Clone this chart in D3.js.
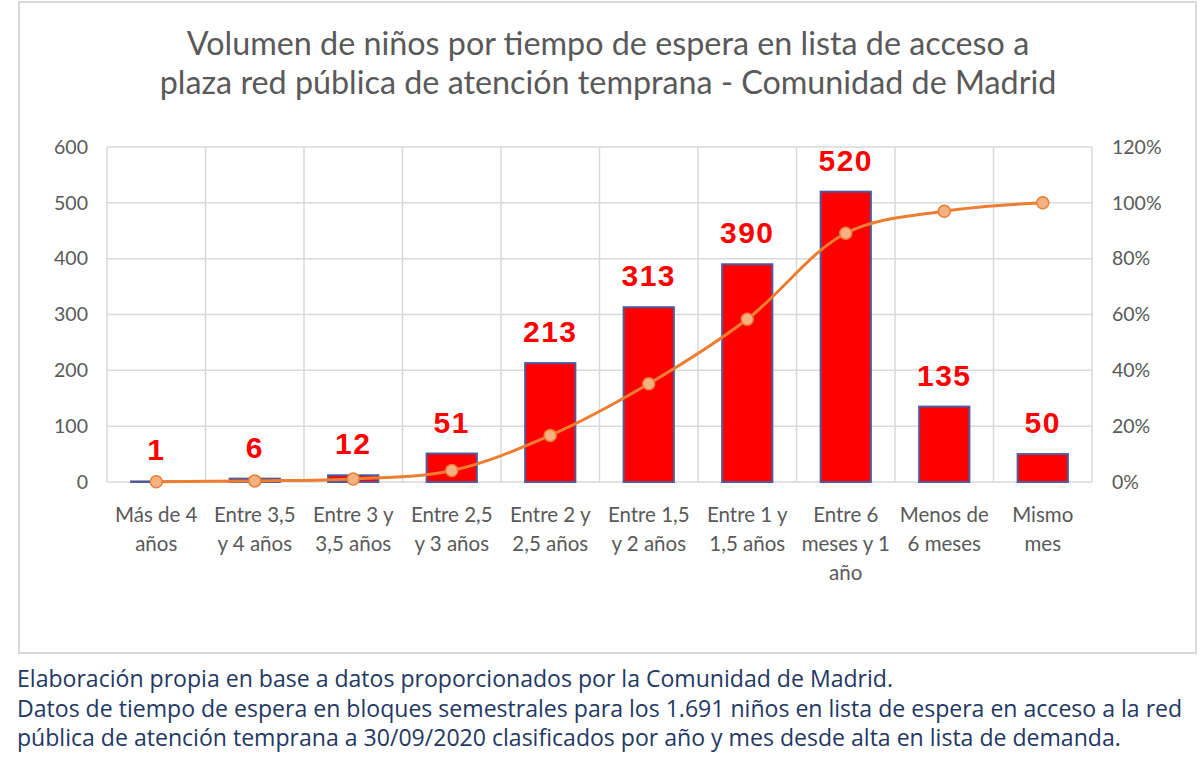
<!DOCTYPE html>
<html>
<head>
<meta charset="utf-8">
<script src="https://cdn.jsdelivr.net/npm/d3@7"></script>
<style>
  body { margin: 0; background: #fff; }
  svg { display: block; }
</style>
</head>
<body>
<div id="chart"></div>
<script>
// categories (each label split into its printed lines)
var categories = [
	["Más de 4", "años"],
	["Entre 3,5", "y 4 años"],
	["Entre 3 y", "3,5 años"],
	["Entre 2,5", "y 3 años"],
	["Entre 2 y", "2,5 años"],
	["Entre 1,5", "y 2 años"],
	["Entre 1 y", "1,5 años"],
	["Entre 6", "meses y 1", "año"],
	["Menos de", "6 meses"],
	["Mismo", "mes"]
];
// number of children per waiting block
var ninos = [1, 6, 12, 51, 213, 313, 390, 520, 135, 50];
// cumulative share (right axis)
var acumulado = [0.0006, 0.004, 0.011, 0.041, 0.167, 0.352, 0.583, 0.891, 0.970, 1.0];
var leftTicks = [0, 100, 200, 300, 400, 500, 600];
var rightTicks = [0, 0.2, 0.4, 0.6, 0.8, 1.0, 1.2];

var titleLines = [
	"Volumen  de  niños  por  tiempo  de  espera  en  lista  de  acceso  a",
	"plaza  red  pública  de  atención  temprana  -  Comunidad  de  Madrid"
];
var footLines = [
	"Elaboración propia en base a datos proporcionados por la Comunidad de Madrid.",
	"Datos de tiempo de espera en bloques semestrales para los 1.691 niños en lista de espera en acceso a la red",
	"pública de atención temprana a 30/09/2020 clasificados por año y mes desde alta en lista de demanda."
];

var W = 1200, H = 774;
var plot = {left: 107, right: 1092, top: 147, bottom: 482};

var svg = d3.select("#chart").append("svg")
	.attr("width", W)
	.attr("height", H);

// outer frame of the chart
svg.append("rect")
	.attr("x", 19).attr("y", 2)
	.attr("width", 1177).attr("height", 651)
	.attr("fill", "#fff")
	.attr("stroke", "#d9d9d9")
	.attr("stroke-width", 2);

// title
var title = svg.append("g");
title.selectAll("text")
	.data(titleLines)
	.enter()
	.append("text")
	.attr("x", 608)
	.attr("y", (d, i) => 55 + i * 39)
	.attr("text-anchor", "middle")
	.attr("font-family", "Lato, 'Open Sans', sans-serif")
	.attr("font-size", 27)
	.attr("fill", "#595959")
	.text(d => d);
// fit the second title line to its width in the picture
var tw = title.selectAll("text").nodes()[1].getComputedTextLength();
title.selectAll("text").attr("font-size", 27 * 897 / tw);

// scales
var x = d3.scaleBand()
	.domain(d3.range(categories.length))
	.range([plot.left, plot.right])
	.paddingInner(0).paddingOuter(0);
var y = d3.scaleLinear().domain([0, 600]).range([plot.bottom, plot.top]);
var y2 = d3.scaleLinear().domain([0, 1.2]).range([plot.bottom, plot.top]);

// grid
var grid = svg.append("g");
grid.selectAll("line.h")
	.data(leftTicks)
	.enter()
	.append("line")
	.attr("class", "h")
	.attr("x1", plot.left).attr("x2", plot.right)
	.attr("y1", d => y(d)).attr("y2", d => y(d))
	.attr("stroke", "#d9d9d9")
	.attr("stroke-width", 1.5);
grid.selectAll("line.v")
	.data(d3.range(categories.length + 1))
	.enter()
	.append("line")
	.attr("class", "v")
	.attr("x1", d => plot.left + d * x.bandwidth())
	.attr("x2", d => plot.left + d * x.bandwidth())
	.attr("y1", plot.top).attr("y2", plot.bottom)
	.attr("stroke", "#d9d9d9")
	.attr("stroke-width", 1.5);

// left axis
var leftAxis = svg.append("g")
	.attr("transform", "translate(" + (plot.left - 19) + ",0)")
	.call(d3.axisLeft(y).tickValues(leftTicks).tickSize(0).tickPadding(0));
leftAxis.select(".domain").remove();
leftAxis.selectAll("text")
	.attr("font-family", "Lato, sans-serif")
	.attr("font-size", 19.5)
	.attr("fill", "#595959");

// right axis
var rightAxis = svg.append("g")
	.attr("transform", "translate(" + (plot.right + 20) + ",0)")
	.call(d3.axisRight(y2).tickValues(rightTicks).tickSize(0).tickPadding(0)
		.tickFormat(d3.format(".0%")));
rightAxis.select(".domain").remove();
rightAxis.selectAll("text")
	.attr("font-family", "Lato, sans-serif")
	.attr("font-size", 19.5)
	.attr("fill", "#595959");

// bars
var barW = x.bandwidth() * 0.51;
svg.append("g")
	.selectAll("rect")
	.data(ninos)
	.enter()
	.append("rect")
	.attr("x", (d, i) => x(i) + (x.bandwidth() - barW) / 2)
	.attr("y", d => y(d))
	.attr("width", barW)
	.attr("height", d => plot.bottom - y(d))
	.attr("fill", "#ff0000")
	.attr("stroke", "#4f5a9c")
	.attr("stroke-width", 2);

// value labels
svg.append("g")
	.selectAll("text")
	.data(ninos)
	.enter()
	.append("text")
	.attr("x", (d, i) => x(i) + x.bandwidth() / 2)
	.attr("y", d => y(d) - 21)
	.attr("text-anchor", "middle")
	.attr("font-family", "'Liberation Sans', Arial, sans-serif")
	.attr("font-weight", "bold")
	.attr("font-size", 30)
	.attr("letter-spacing", 1.5)
	.attr("fill", "#ff0000")
	.text(d => d);

// cumulative line
var line = d3.line()
	.x((d, i) => x(i) + x.bandwidth() / 2)
	.y(d => y2(d))
	.curve(d3.curveCatmullRom.alpha(0.5));
svg.append("path")
	.datum(acumulado)
	.attr("d", line)
	.attr("fill", "none")
	.attr("stroke", "#ed7d31")
	.attr("stroke-width", 3);
svg.append("g")
	.selectAll("circle")
	.data(acumulado)
	.enter()
	.append("circle")
	.attr("cx", (d, i) => x(i) + x.bandwidth() / 2)
	.attr("cy", d => y2(d))
	.attr("r", 6)
	.attr("fill", "#f4b183")
	.attr("stroke", "#ed7d31")
	.attr("stroke-width", 1.5);

// category labels
var cat = svg.append("g")
	.selectAll("text")
	.data(categories)
	.enter()
	.append("text")
	.attr("text-anchor", "middle")
	.attr("font-family", "Lato, sans-serif")
	.attr("font-size", 20.5)
	.attr("fill", "#595959");
cat.each(function(d, i) {
	var t = d3.select(this);
	d.forEach(function(s, k) {
		t.append("tspan")
			.attr("x", x(i) + x.bandwidth() / 2)
			.attr("y", 522 + k * 29)
			.text(s);
	});
});

// footnote below the frame
var foot = svg.append("g");
foot.selectAll("text")
	.data(footLines)
	.enter()
	.append("text")
	.attr("x", 17)
	.attr("y", (d, i) => 687 + i * 29.5)
	.attr("font-family", "'Open Sans', 'Noto Sans', sans-serif")
	.attr("font-size", 20)
	.attr("fill", "#1f3864")
	.text(d => d);
// fit to the longest line (the second one ends near the right edge)
var fw = foot.selectAll("text").nodes()[1].getComputedTextLength();
foot.selectAll("text").attr("font-size", 20 * 1166 / fw);
</script>
</body>
</html>
